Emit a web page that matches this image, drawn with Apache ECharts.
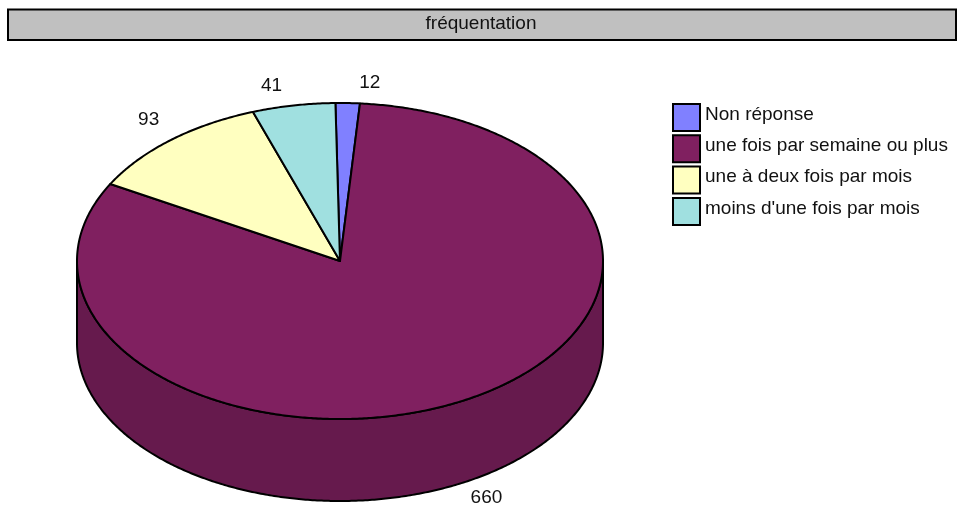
<!DOCTYPE html>
<html><head><meta charset="utf-8">
<style>html,body{margin:0;padding:0;background:#fff}#c{width:958px;height:506px}</style>
<script src="https://cdn.jsdelivr.net/npm/echarts@6/dist/echarts.min.js"></script>
</head><body><div id="c"></div>
<script>
const titleText = 'fréquentation';
const categories = ['Non réponse','une fois par semaine ou plus','une à deux fois par mois',"moins d'une fois par mois"];
const values = [12,660,93,41];
const colors = ['#8080FF','#802060','#FFFFC0','#A0E0E0'];
const sideColors = ['#6666CC','#661A4D','#CCCC99','#80B3B3'];

const FONT = 'Liberation Sans, Arial, sans-serif';
const P = {cx:340, cy:261, rx:263, ry:158, depth:82, start:-1};
const total = values.reduce((a,b)=>a+b,0);
function pt(deg, dy){ const r=deg*Math.PI/180; return [P.cx+P.rx*Math.sin(r), P.cy-P.ry*Math.cos(r)+(dy||0)]; }
function arc(a,b,dy){ const n=Math.max(2,Math.ceil(Math.abs(b-a))*2), o=[]; for(let i=0;i<=n;i++) o.push(pt(a+(b-a)*i/n,dy)); return o; }

function makeItem(i){
  return function(params, api){
    const before = values.slice(0,i).reduce((a,b)=>a+b,0);
    const a0 = P.start + before/total*360;
    const a1 = a0 + api.value(0)/total*360;
    const mid = (a0+a1)/2, children = [];
    const lo = Math.max(a0,90), hi = Math.min(a1,270);
    const line = {stroke:'#000', lineWidth:2, lineJoin:'round'};
    if (hi>lo){
      const top = arc(lo,hi,0), bot = arc(hi,lo,P.depth);
      children.push({type:'polygon', shape:{points:top.concat(bot)}, style:Object.assign({fill:sideColors[i]},line)});
    }
    children.push({type:'polygon', shape:{points:[[P.cx,P.cy]].concat(arc(a0,a1,0))}, style:Object.assign({fill:colors[i]},line)});
    const m = pt(mid,0), s = Math.sin(mid*Math.PI/180), c = Math.cos(mid*Math.PI/180);
    children.push({type:'text', style:{
      text:String(api.value(0)), x:m[0]+(s>=0?22:-22), y:m[1]+(c>=0?-20:P.depth+16),
      align:'center', verticalAlign:'middle', fontSize:19, fontFamily:FONT, fill:'#111'}});
    return {type:'group', children};
  };
}

const chart = echarts.init(document.getElementById('c'), null, {renderer:'canvas'});
chart.setOption({
  animation:false,
  backgroundColor:'#fff',
  title:{text:titleText, left:476, top:9, textAlign:'center', z:10,
    textStyle:{fontFamily:FONT, fontSize:19, fontWeight:'normal', color:'#111'}},
  graphic:[{type:'rect', z:1, shape:{x:8,y:9.5,width:948,height:30.5},
    style:{fill:'#C0C0C0', stroke:'#000', lineWidth:2}}],
  legend:{left:667, top:98, orient:'vertical', icon:'rect', itemWidth:27, itemHeight:27, itemGap:2.3,
    data:categories, selectedMode:false,
    itemStyle:{borderColor:'#000', borderWidth:2},
    formatter:(name)=>'{t|'+name+'}',
    textStyle:{fontFamily:FONT, fontSize:19, color:'#111',
      rich:{t:{fontFamily:FONT, fontSize:19, color:'#111', lineHeight:20, padding:[0,0,6,0]}}}},
  series: categories.map((name,i)=>({
    type:'custom', name, coordinateSystem:'none', silent:true,
    itemStyle:{color:colors[i]},
    data:[[values[i]]],
    renderItem:makeItem(i)
  }))
});
</script></body></html>
